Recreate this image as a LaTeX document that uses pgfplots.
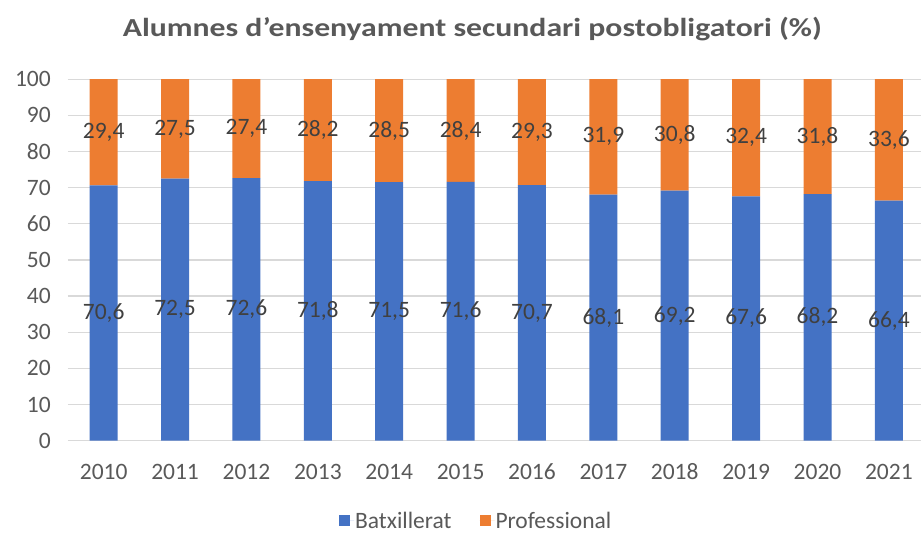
\documentclass[border=0pt]{standalone}
\usepackage{pgfplots}
\pgfplotsset{compat=1.18}
\usepackage{pgfplotstable}
\usepackage{fontspec}
\setmainfont{Carlito}
\newfontfamily\titlefont{Carlito}[FakeStretch=1.22]
\definecolor{cblue}{HTML}{4472C4}
\definecolor{corange}{HTML}{ED7D31}
\definecolor{ctext}{HTML}{595959}
\definecolor{clabel}{HTML}{404040}
\definecolor{cgrid}{HTML}{D9D9D9}
\pgfplotstableread{
x b p
0 70.6 29.4
1 72.5 27.5
2 72.6 27.4
3 71.8 28.2
4 71.5 28.5
5 71.6 28.4
6 70.7 29.3
7 68.1 31.9
8 69.2 30.8
9 67.6 32.4
10 68.2 31.8
11 66.4 33.6
}\data
\begin{document}
\begin{tikzpicture}
\path[use as bounding box] (-68bp,-92.3bp) rectangle (853bp,440.7bp);
\begin{axis}[
  at={(0,0)}, anchor=south west,
  scale only axis, width=853bp, height=361.5bp,
  ybar stacked, bar width=28bp,
  xmin=-0.5, xmax=11.45, ymin=0, ymax=100,
  xtick={0,...,11},
  xticklabels={2010,2011,2012,2013,2014,2015,2016,2017,2018,2019,2020,2021},
  ytick={0,10,...,100},
  axis line style={draw=none},
  major tick length=0pt,
  ymajorgrids, grid style={cgrid, line width=1.3bp},
  /pgf/number format/assume math mode=true,
  tick label style={font=\fontsize{23.5bp}{27bp}\selectfont, text=ctext},
  xticklabel style={anchor=center, yshift=-31bp},
  yticklabel style={anchor=east, inner sep=0pt, xshift=-17bp},
  title={Alumnes d’ensenyament secundari postobligatori (\%)},
  title style={at={(0.474,1.122)}, anchor=center, font=\titlefont\bfseries\fontsize{26bp}{30bp}\selectfont, text=ctext},
  legend style={at={(0.478,-0.222)}, anchor=center, draw=none, fill=none,
    inner sep=0pt, nodes={inner sep=1bp},
    font=\fontsize{23.5bp}{27bp}\selectfont, text=ctext,
    /tikz/every even column/.append style={column sep=27bp}},
  legend columns=2,
  legend image code/.code={\fill[#1] (0bp,-5.5bp) rectangle (11bp,5.5bp); \path (0bp,0bp) -- (15bp,0bp);},
  nodes near coords,
  point meta=explicit,
  every node near coord/.append style={anchor=center, text=clabel,
    font=\fontsize{23.5bp}{27bp}\selectfont,
    /pgf/number format/fixed, /pgf/number format/fixed zerofill,
    /pgf/number format/precision=1, /pgf/number format/use comma,
    /pgf/number format/assume math mode=true},
]
\addplot[fill=cblue, draw=none] table[x=x, y=b, meta=b] {\data};
\addlegendentry{Batxillerat}
\addplot[fill=corange, draw=none] table[x=x, y=p, meta=p] {\data};
\addlegendentry{Professional}
\end{axis}
\end{tikzpicture}
\end{document}
